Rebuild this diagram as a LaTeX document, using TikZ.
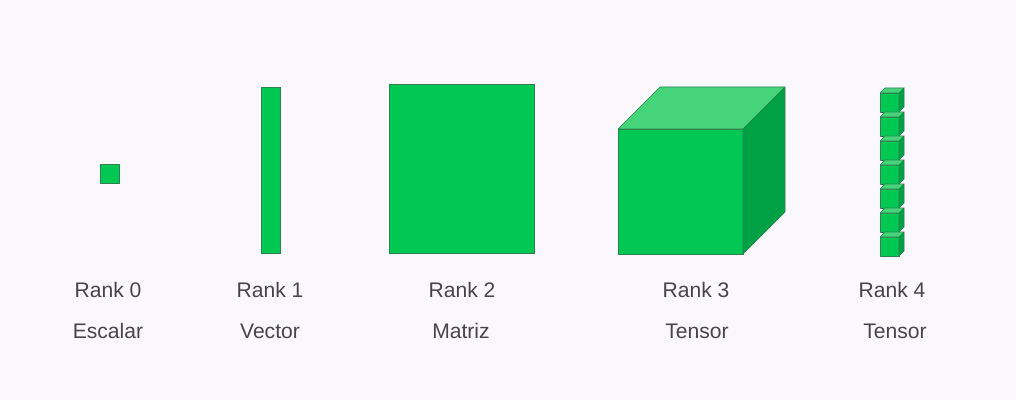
\documentclass[tikz,border=0pt]{standalone}
\usepackage{fontspec}
\setmainfont{Liberation Sans}
\usetikzlibrary{positioning}

\definecolor{bgcol}{RGB}{250,248,252}
\definecolor{frontgreen}{RGB}{0,200,83}
\definecolor{topgreen}{RGB}{70,212,122}
\definecolor{sidegreen}{RGB}{0,160,68}
\definecolor{edgegreen}{RGB}{45,130,80}
\definecolor{labelgray}{RGB}{70,70,70}

% cube: top-left corner of front face (x,y), size, depth
\newcommand{\greencube}[4]{%
  \filldraw[face, fill=frontgreen] (#1,#2) rectangle ++(#3,#3);
  \filldraw[face, fill=topgreen] (#1,#2) -- ++(#4,-#4) -- ++(#3,0) -- ++(-#4,#4) -- cycle;
  \filldraw[face, fill=sidegreen] (#1+#3,#2) -- ++(#4,-#4) -- ++(0,#3) -- ++(-#4,#4) -- cycle;
}

\begin{document}
\begin{tikzpicture}[
    x=0.025cm, y=-0.025cm,
    face/.style={draw=edgegreen, line width=0.4pt, line join=round},
    flat/.style={draw=edgegreen, line width=0.4pt, fill=frontgreen},
    rank/.style={text=labelgray, font=\fontsize{15}{18}\selectfont, anchor=center},
    kind/.style={text=labelgray, font=\fontsize{15}{18}\selectfont, anchor=center}
  ]
  % background and size
  \fill[bgcol] (0,0) rectangle (1016,400);
  \useasboundingbox (0,0) rectangle (1016,400);

  % shapes
  \filldraw[flat] (100,164) rectangle (119,183);   % scalar
  \filldraw[flat] (261,87) rectangle (280,253);    % vector
  \filldraw[flat] (389,84) rectangle (534,253);    % matrix
  \greencube{618}{129}{125}{42}                    % rank 3 tensor
  \foreach \i in {0,...,6}{
    \greencube{880}{93+24*\i}{19}{5}
  }                                                % rank 4 tensor

  % labels
  \node[rank] (R0) at (108,290) {Rank 0};
  \node[kind] (K0) at (108,331) {Escalar};
  \node[rank] (R1) at (270,290) {Rank 1};
  \node[kind] (K1) at (270,331) {Vector};
  \node[rank] (R2) at (462,290) {Rank 2};
  \node[kind] (K2) at (461,331) {Matriz};
  \node[rank] (R3) at (696,290) {Rank 3};
  \node[kind] (K3) at (697,331) {Tensor};
  \node[rank] (R4) at (892,290) {Rank 4};
  \node[kind] (K4) at (895,331) {Tensor};
\end{tikzpicture}
\end{document}
